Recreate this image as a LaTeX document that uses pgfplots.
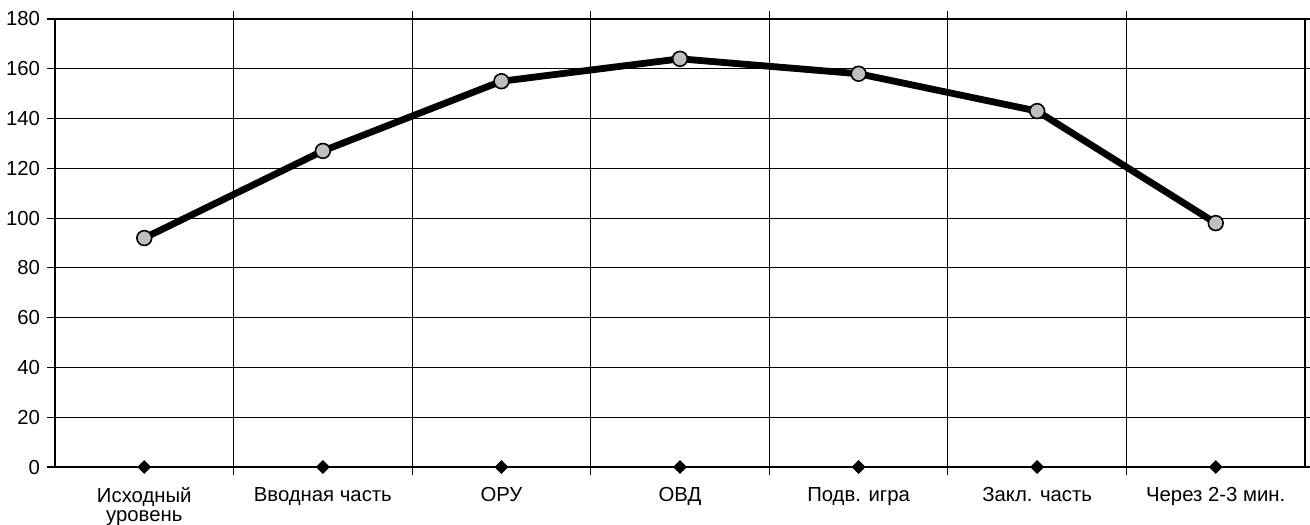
\documentclass[border=0pt]{standalone}
\usepackage{fontspec}
\setmainfont{Liberation Sans}
\usepackage{pgfplots}
\pgfplotsset{compat=1.18}

\begin{document}
\begin{tikzpicture}
\begin{axis}[
  scale only axis, width=625bp, height=224bp,
  xmin=-0.5, xmax=6.5, ymin=0, ymax=180,
  ytick={0,20,...,180},
  xtick={0,...,6},
  xticklabels={{Исходный\\уровень},{Вводная часть},{ОРУ},{ОВД},{Подв. игра},{Закл. часть},{Через 2-3 мин.}},
  xticklabel style={align=center, anchor=north, yshift=-2.5bp, font=\fontsize{10.2}{9.6}\selectfont},
  minor xtick={0.5,1.5,...,5.5},
  xminorgrids=true, ymajorgrids=true, xmajorgrids=false,
  grid style={black, line width=0.5pt},
  minor grid style={black, line width=0.5pt},
  major x tick style={draw=none},
  tick align=outside,
  major tick length=4bp, minor tick length=4bp,
  tick style={black, line width=0.6pt},
  axis line style={black, line width=0.7pt},
  yticklabel style={font=\fontsize{10.2}{11.5}\selectfont},
  /pgf/number format/assume math mode=true,
  clip=false,
]
\addplot[black, line width=1.1bp, mark=square*, mark size=1.9bp, mark options={solid, fill=black, rotate=45}]
  coordinates {(0,0)(1,0)(2,0)(3,0)(4,0)(5,0)(6,0)};
\addplot[black, line width=3.4bp, mark=*, mark size=3.7bp, mark options={solid, fill=gray!50, draw=black, line width=0.8pt}]
  coordinates {(0,92)(1,127)(2,155)(3,164)(4,158)(5,143)(6,98)};
\end{axis}
\pgfresetboundingbox
\path[use as bounding box] ([shift={(-27.5bp,-28.5bp)}]current axis.south west) rectangle ([shift={(2.5bp,9.5bp)}]current axis.north east);
\end{tikzpicture}
\end{document}
